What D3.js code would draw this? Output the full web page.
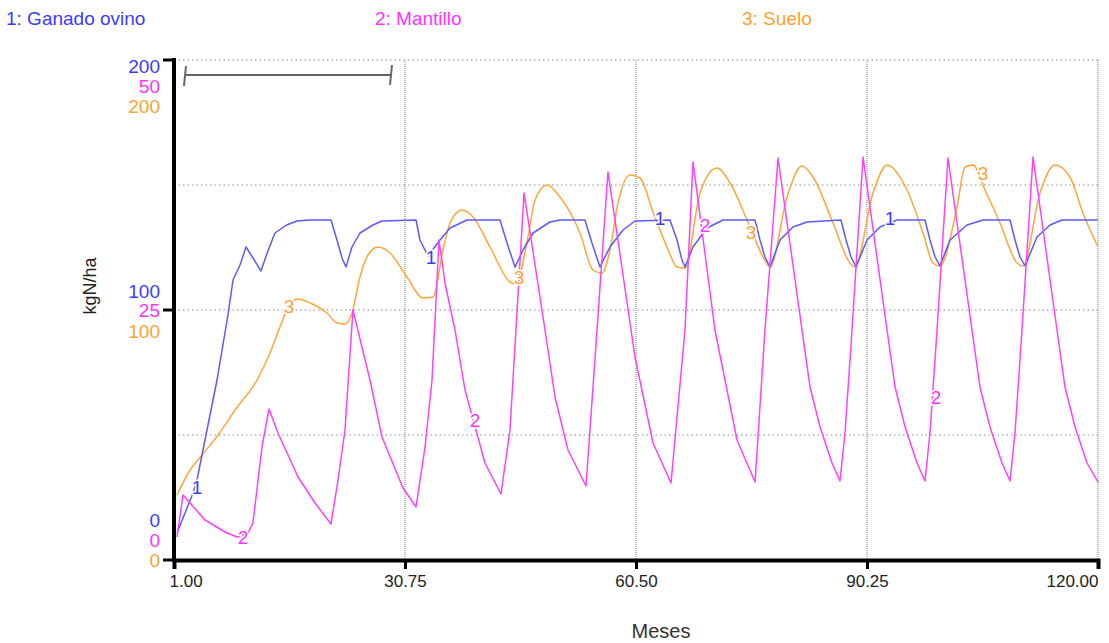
<!DOCTYPE html>
<html><head><meta charset="utf-8">
<script src="https://cdn.jsdelivr.net/npm/d3@7"></script>
<style>
html,body{margin:0;padding:0;background:#fff;}
text{font-family:"Liberation Sans",Arial,sans-serif;}
</style></head>
<body><svg id="chart" width="1109" height="643"></svg>
<script>
// ---- data ----
const xDomain = [1, 120];
const xTickValues = [1, 30.75, 60.5, 90.25, 120];
const seriesNames = ["1: Ganado ovino", "2: Mantillo", "3: Suelo"];
const seriesColors = ["#5a5aff", "#ff40ff", "#ffa53a"];
const legendColors = ["#3b3bff", "#ff33ff", "#ffa030"];
const yMax = [200, 50, 200];
const yTickLabels = [["0", "100", "200"], ["0", "25", "50"], ["0", "100", "200"]];

// series 1: Ganado ovino  [month, kgN/ha]
const ganadoMonths = [1.39,3.45,3.96,6.54,7.95,8.60,9.50,10.27,11.17,12.20,13.0,14.0,15.5,16.84,18.52,21.22,21.99,22.64,23.15,23.92,24.95,26.62,27.79,32.17,32.68,33.71,35.26,36.55,38.73,42.98,43.89,44.92,45.95,47.24,49.42,50.71,53.93,54.83,55.86,57.15,58.82,60.37,64.88,65.78,66.42,66.81,67.84,69.64,71.70,75.83,76.47,77.11,77.76,79.05,80.72,82.52,86.90,87.55,88.19,88.83,90.25,91.93,94.11,97.72,98.36,99.01,99.65,100.94,103.13,105.19,108.67,109.31,109.95,110.60,112.14,113.82,115.36,120.0];
const ganadoValues = [10.8,26.8,32.0,72.0,98.0,112.0,118.0,125.2,120.8,115.6,122.8,130.8,134.0,135.6,136,136,128,120.8,117.2,125.2,130.8,134.0,135.6,136,128,121.6,128,132.8,136,136,126.8,117.2,124,130.8,135.2,136,136,126.8,117.2,125.2,132,135.6,136,128,120,117.2,125.2,132.8,136,136,128,121.2,117.2,128,133.2,135.2,136,128,121.2,117.2,128,133.2,136,136,128,121.2,117.6,128,134,136,136,128,121.2,117.6,129.2,134,136,136];

// series 2: Mantillo
const mantilloMonths = [1.39,2.16,4.99,7.57,9.11,10.53,11.17,12.33,13.24,14.39,16.97,19.16,21.22,22.12,23.02,24.05,26.24,27.79,30.49,32.17,33.33,34.23,35.13,35.90,37.19,38.48,41.05,43.11,44.27,45.04,46.08,48.78,50.07,51.74,54.06,55.48,56.89,60.37,62.69,65.01,66.81,67.84,70.67,73.51,75.83,77.11,78.79,81.88,82.91,84.20,85.74,86.77,87.42,88.32,89.74,92.83,93.86,95.15,96.69,97.72,98.36,99.27,100.68,103.77,104.80,106.09,107.64,108.67,109.31,110.21,111.63,114.72,115.75,117.04,118.59,120.0];
const mantilloValues = [2.3,6.5,4.0,2.8,2.3,2.7,3.7,11.3,15.1,12.7,8.3,5.7,3.6,8.0,13.0,25.0,18.0,12.3,7.2,5.3,11.3,18.0,32.0,27.7,23.0,17.0,9.7,6.6,13.0,23.0,36.7,23.0,16.3,11.0,7.4,23.0,38.8,20.3,11.7,7.7,23.0,39.8,23.0,12.0,7.8,23.0,40.2,23.0,17.3,13.3,9.7,7.9,12.7,23.0,40.3,23.0,17.3,13.3,9.7,7.9,12.7,23.0,40.2,23.0,17.3,13.3,9.7,7.9,12.7,23.0,40.3,23.0,17.3,13.3,9.7,7.8];

// series 3: Suelo
const sueloMonths = [1.39,3.06,4.61,6.67,8.86,11.69,13.36,14.65,15.81,16.84,18.52,20.70,21.99,23.02,23.92,24.95,25.98,27.27,28.82,31.01,33.07,34.36,35.64,36.55,38.09,39.51,41.70,44.27,45.04,46.59,47.49,49.04,50.71,53.29,54.96,56.12,57.15,58.18,59.73,61.02,62.69,64.49,65.78,66.81,68.74,70.93,72.61,75.18,76.86,77.76,79.95,81.88,83.30,85.87,88.06,88.70,91.02,92.83,95.40,97.46,98.75,99.65,101.84,102.87,103.90,105.45,107.38,109.57,110.34,112.53,114.46,116.39,118.06,120.0];
const sueloValues = [26,36,42,50,60,72,82.8,93.2,101.6,104.4,102.8,98.8,94.8,94.4,98.8,113.2,122,125.2,122.8,113.2,104.8,105.2,124,134.8,140,137.2,125.2,111.2,110.4,129.2,144,150,145.2,130.8,116,114.8,124,142.8,154,152.8,139.2,125.2,117.2,116.8,146.8,156.8,150.8,133.2,121.2,117.2,145.2,157.6,153.2,134.8,118.8,117.2,146.8,158,148,130.8,118.8,117.6,141.2,157.2,158,148,134.8,118.8,117.6,146.8,158,153.2,138.8,125.2];

// in-line curve labels: [series index, month, value]
const curveLabels = [
  [0,3.96,29.2],[0,34.10,121.2],[0,63.59,136.8],[0,93.22,136.8],
  [1,9.89,2.3],[1,39.76,14.0],[1,69.38,33.5],[1,99.14,16.3],
  [2,15.81,101.6],[2,45.43,113.2],[2,75.31,131.2],[2,105.19,154.8]
];

// ---- drawing ----
const svg = d3.select("#chart");
const L = 174, R = 1098, T = 60, B = 560;
const x = d3.scaleLinear().domain(xDomain).range([L, R]);
const ys = yMax.map(m => d3.scaleLinear().domain([0, m]).range([B, T]));

// grid
const g = svg.append("g");
[0.25, 0.5, 0.75, 1].forEach(f => {
  const yy = ys[0](yMax[0] * f);
  g.append("line").attr("x1", L).attr("x2", R).attr("y1", yy).attr("y2", yy)
    .attr("stroke", "#8a8a8a").attr("stroke-width", 1).attr("stroke-dasharray", "1.5,3");
});
xTickValues.slice(1).forEach(v => {
  g.append("line").attr("x1", x(v)).attr("x2", x(v)).attr("y1", T).attr("y2", B)
    .attr("stroke", "#7a7a7a").attr("stroke-width", 1).attr("stroke-dasharray", "1,1");
});

// scale bar
svg.append("line").attr("x1", 185).attr("x2", 391).attr("y1", 75).attr("y2", 75)
  .attr("stroke", "#666").attr("stroke-width", 2);
svg.append("line").attr("x1", 184).attr("x2", 186).attr("y1", 86).attr("y2", 66)
  .attr("stroke", "#666").attr("stroke-width", 2);
svg.append("line").attr("x1", 390).attr("x2", 392).attr("y1", 85).attr("y2", 65)
  .attr("stroke", "#666").attr("stroke-width", 2);

// lines
const datasets = [
  [ganadoMonths, ganadoValues, d3.curveLinear],
  [mantilloMonths, mantilloValues, d3.curveLinear],
  [sueloMonths, sueloValues, d3.curveMonotoneX]
];
const drawOrder = [2, 0, 1];
drawOrder.forEach(i => {
  const [mx, vy, curve] = datasets[i];
  const pts = mx.map((m, k) => [m, vy[k]]);
  const line = d3.line().x(d => x(d[0])).y(d => ys[i](d[1])).curve(curve);
  svg.append("path").datum(pts).attr("d", line).attr("fill", "none")
    .attr("stroke", seriesColors[i]).attr("stroke-width", 1.5).attr("stroke-linejoin", "round");
});

// curve labels
svg.append("g").selectAll("text").data(curveLabels).join("text")
  .attr("x", d => x(d[1])).attr("y", d => ys[d[0]](d[2]))
  .attr("text-anchor", "middle").attr("dominant-baseline", "central")
  .attr("font-size", 19).attr("fill", d => legendColors[d[0]])
  .attr("stroke", "#fff").attr("stroke-width", 3).attr("paint-order", "stroke")
  .text(d => String(d[0] + 1));

// axes
const xAxis = d3.axisBottom(x).tickValues(xTickValues).tickSize(9).tickFormat(d3.format(".2f"));
const ax = svg.append("g").attr("transform", `translate(0,${B})`).call(xAxis);
ax.select(".domain").attr("stroke", "#000").attr("stroke-width", 4);
ax.selectAll(".tick line").attr("stroke", "#000").attr("stroke-width", 3);
ax.selectAll(".tick text").attr("font-size", 17).attr("fill", "#222")
  .attr("font-family", "'Liberation Sans',Arial,sans-serif").attr("dy", "0.9em")
  .attr("text-anchor", (d, i, n) => i === 0 ? "start" : (i === n.length - 1 ? "end" : "middle"))
  .attr("dx", (d, i, n) => i === 0 ? -5 : 0);

svg.append("line").attr("x1", L).attr("x2", L).attr("y1", T - 2).attr("y2", B + 2)
  .attr("stroke", "#000").attr("stroke-width", 4);
[0, 0.5, 1].forEach(f => {
  const yy = ys[0](yMax[0] * f);
  svg.append("line").attr("x1", L - 11).attr("x2", L).attr("y1", yy).attr("y2", yy)
    .attr("stroke", "#000").attr("stroke-width", 3);
});
// y tick labels (stacked per series)
const offsets = [[-40, -20, 0], [-19, 0, 21], [6, 26, 46]];
[0, 1, 2].forEach(pos => {
  const frac = [0, 0.5, 1][pos];
  const base = ys[0](yMax[0] * frac);
  const off = offsets[pos];
  [0, 1, 2].forEach(s => {
    svg.append("text").attr("x", 160).attr("y", base + off[s])
      .attr("text-anchor", "end").attr("dominant-baseline", "central")
      .attr("font-size", 19).attr("fill", legendColors[s])
      .text(yTickLabels[s][pos]);
  });
});

// titles
svg.append("text").attr("transform", "translate(90,286) rotate(-90)")
  .attr("text-anchor", "middle").attr("dominant-baseline", "central")
  .attr("font-size", 18).attr("fill", "#222").text("kgN/ha");
svg.append("text").attr("x", 661).attr("y", 631).attr("text-anchor", "middle")
  .attr("dominant-baseline", "central").attr("font-size", 20).attr("fill", "#333").text("Meses");

// legend
const legendX = [6, 375, 742];
seriesNames.forEach((n, i) => {
  svg.append("text").attr("x", legendX[i]).attr("y", 18).attr("dominant-baseline", "central")
    .attr("font-size", 19).attr("fill", legendColors[i]).text(n);
});
</script></body></html>
